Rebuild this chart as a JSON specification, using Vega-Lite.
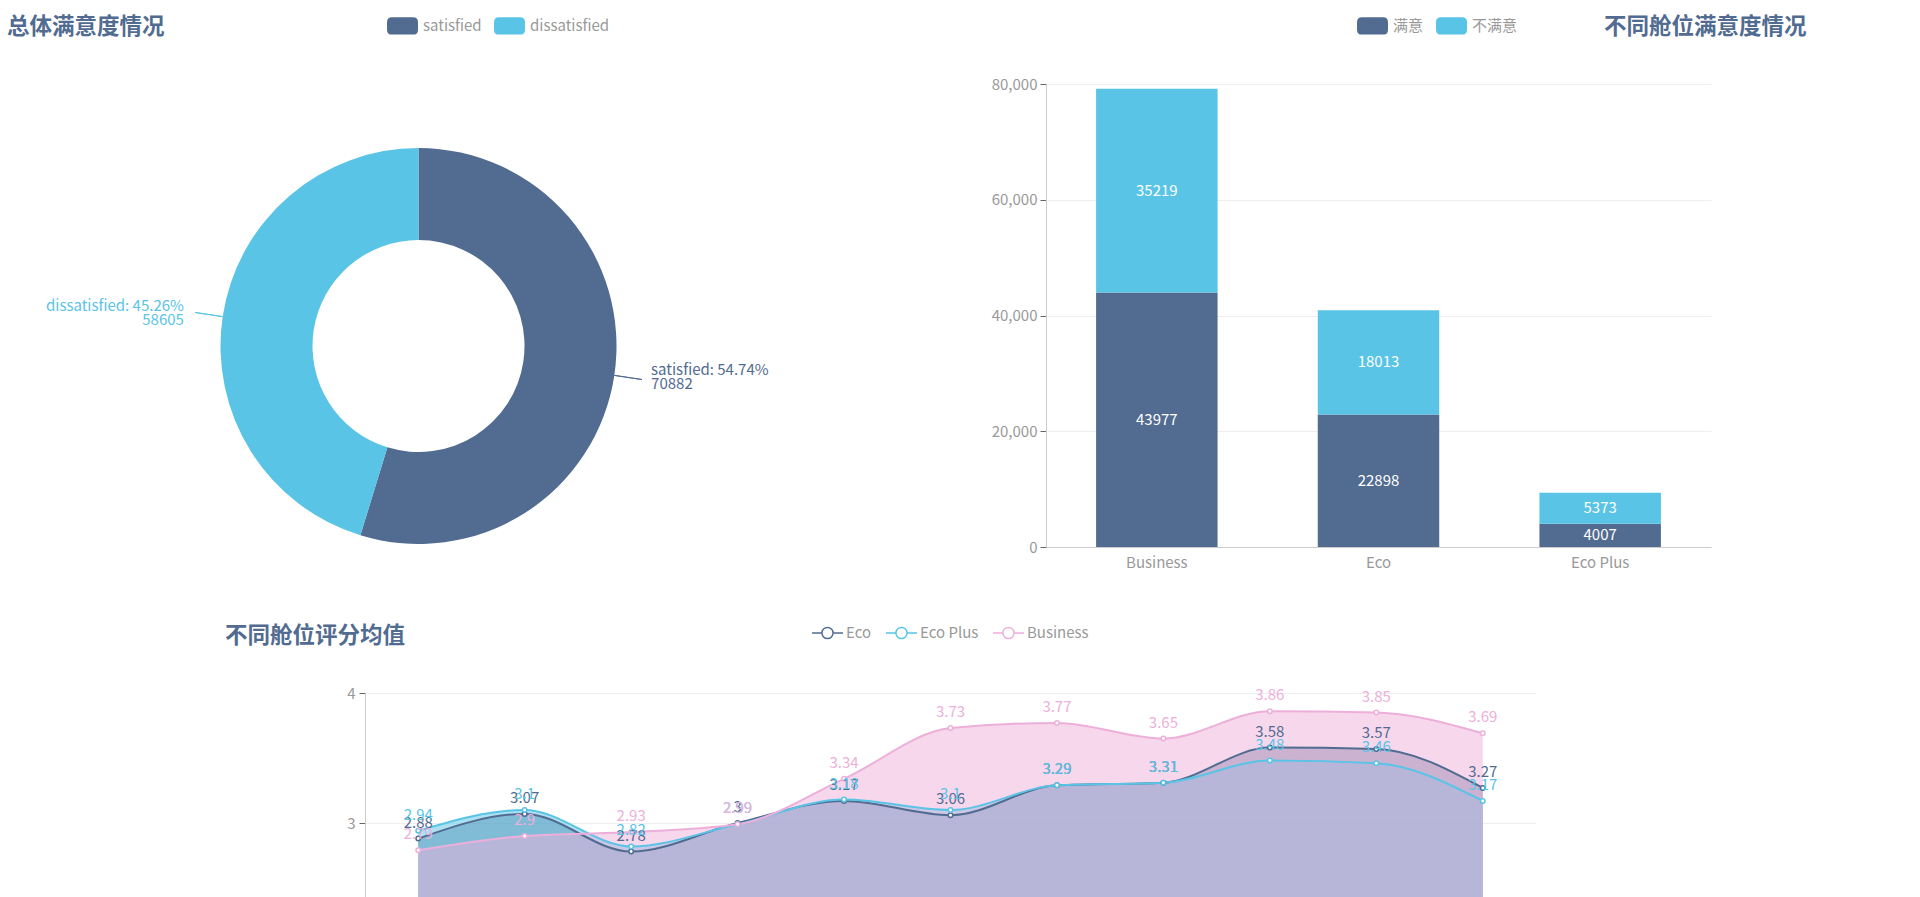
{
  "$schema": "https://vega.github.io/schema/vega-lite/v6.json",
  "padding": {"left": 0, "top": 10, "right": 5, "bottom": 5},
  "background": "white",
  "config": {
    "font": "Noto Sans CJK SC",
    "view": {"stroke": null},
    "title": {"fontSize": 22.5, "fontWeight": "bold", "color": "#516b91", "anchor": "start", "frame": "group", "baseline": "middle"},
    "legend": {"labelFontSize": 15, "labelColor": "#999999", "padding": 0, "labelOffset": 5, "columnPadding": 12},
    "axis": {"labelFontSize": 15, "labelColor": "#999999", "domainColor": "#cccccc", "tickColor": "#666666", "gridColor": "#eeeeee", "title": null}
  },
  "bounds": "full",
  "spacing": 8,
  "resolve": {
    "scale": {"color": "independent", "fill": "independent", "stroke": "independent"},
    "legend": {"color": "independent", "fill": "independent", "stroke": "independent"}
  },
  "vconcat": [
    {
      "bounds": "flush",
      "spacing": 209,
      "resolve": {
        "scale": {"color": "independent", "fill": "independent", "stroke": "independent"},
        "legend": {"color": "independent", "fill": "independent", "stroke": "independent"}
      },
      "hconcat": [
        {
          "width": 837,
          "height": 524,
          "title": {"text": "总体满意度情况", "dx": 7, "offset": -28.6},
          "data": {"values": [
            {"status": "satisfied", "value": 70882, "label": "satisfied: 54.74%\n70882"},
            {"status": "dissatisfied", "value": 58605, "label": "dissatisfied: 45.26%\n58605"}
          ]},
          "layer": [
            {
              "mark": {"type": "arc", "innerRadius": 106, "outerRadius": 198},
              "encoding": {
                "theta": {"field": "value", "type": "quantitative", "stack": true},
                "order": {"field": "value", "type": "quantitative", "sort": "descending"},
                "color": {"field": "status", "type": "nominal",
                  "scale": {"domain": ["satisfied", "dissatisfied"], "range": ["#516b91", "#59c4e6"]},
                  "legend": {"title": null, "orient": "none", "direction": "horizontal", "legendX": 387, "legendY": -74,
                    "symbolType": "M-0.68,-0.56L0.68,-0.56Q1,-0.56 1,-0.24L1,0.24Q1,0.56 0.68,0.56L-0.68,0.56Q-1,0.56 -1,0.24L-1,-0.24Q-1,-0.56 -0.68,-0.56Z",
                    "symbolSize": 961, "symbolStrokeWidth": 0}}
              }
            },
            {
              "transform": [
                {"stack": "value", "groupby": [], "as": ["v0", "v1"], "sort": [{"field": "value", "order": "descending"}]},
                {"fold": ["v0", "v1"], "as": ["edge", "pos"]},
                {"aggregate": [{"op": "mean", "field": "pos", "as": "mid"}], "groupby": ["status"]}
              ],
              "mark": {"type": "arc", "innerRadius": 198, "outerRadius": 226, "filled": false, "strokeWidth": 1},
              "encoding": {
                "theta": {"field": "mid", "type": "quantitative", "stack": null},
                "theta2": {"field": "mid"},
                "color": {"field": "status", "type": "nominal", "legend": null}
              }
            },
            {
              "mark": {"type": "text", "radius": 217, "fontSize": 15, "lineBreak": "\n", "lineHeight": 14, "baseline": "middle", "dy": -8,
                "dx": {"expr": "datum.status == 'satisfied' ? 18 : -20"},
                "align": {"expr": "datum.status == 'satisfied' ? 'left' : 'right'"}},
              "encoding": {
                "theta": {"field": "value", "type": "quantitative", "stack": true},
                "order": {"field": "value", "type": "quantitative", "sort": "descending"},
                "text": {"field": "label", "type": "nominal"},
                "color": {"field": "status", "type": "nominal", "legend": null}
              }
            }
          ]
        },
        {
          "width": 665,
          "height": 463,
          "title": {"text": "不同舱位满意度情况", "dx": 558, "offset": -28.6},
          "data": {"values": [
            {"cabin": "Business", "status": "满意", "count": 43977},
            {"cabin": "Business", "status": "不满意", "count": 35219},
            {"cabin": "Eco", "status": "满意", "count": 22898},
            {"cabin": "Eco", "status": "不满意", "count": 18013},
            {"cabin": "Eco Plus", "status": "满意", "count": 4007},
            {"cabin": "Eco Plus", "status": "不满意", "count": 5373}
          ]},
          "encoding": {
            "x": {"field": "cabin", "type": "nominal", "sort": null,
              "scale": {"paddingInner": 0.452, "paddingOuter": 0.226},
              "axis": {"labelAngle": 0, "ticks": false, "labelPadding": 8, "grid": false}},
            "order": {"field": "status", "type": "nominal", "sort": "descending"}
          },
          "layer": [
            {
              "mark": {"type": "bar"},
              "encoding": {
                "y": {"field": "count", "type": "quantitative", "stack": "zero",
                  "scale": {"domain": [0, 80000], "nice": false},
                  "axis": {"values": [0, 20000, 40000, 60000, 80000], "format": ",d", "tickSize": 6, "labelPadding": 3, "grid": true}},
                "color": {"field": "status", "type": "nominal",
                  "scale": {"domain": ["满意", "不满意"], "range": ["#516b91", "#59c4e6"]},
                  "legend": {"title": null, "orient": "none", "direction": "horizontal", "legendX": 311, "legendY": -74,
                    "symbolType": "M-0.68,-0.56L0.68,-0.56Q1,-0.56 1,-0.24L1,0.24Q1,0.56 0.68,0.56L-0.68,0.56Q-1,0.56 -1,0.24L-1,-0.24Q-1,-0.56 -0.68,-0.56Z",
                    "symbolSize": 961, "symbolStrokeWidth": 0}}
              }
            },
            {
              "mark": {"type": "text", "fill": "white", "fontSize": 15, "baseline": "middle"},
              "encoding": {
                "y": {"field": "count", "type": "quantitative", "stack": "zero", "bandPosition": 0.5},
                "detail": {"field": "status", "type": "nominal"},
                "text": {"field": "count", "type": "quantitative", "format": "d"}
              }
            }
          ]
        }
      ]
    },
    {
      "bounds": "flush",
      "spacing": 364,
      "resolve": {
        "scale": {"color": "independent", "fill": "independent", "stroke": "independent"},
        "legend": {"color": "independent", "fill": "independent", "stroke": "independent"}
      },
      "hconcat": [
        {
          "width": 1,
          "height": 1,
          "data": {"values": []},
          "mark": {"type": "point", "opacity": 0}
        },
        {
          "width": 1171,
          "height": 520,
          "title": {"text": "不同舱位评分均值", "dx": -140, "offset": -31.5},
          "data": {"values": [
            {"item": "Seat comfort", "cabin": "Eco", "score": 2.88},
            {"item": "Departure/Arrival time", "cabin": "Eco", "score": 3.07},
            {"item": "Food and drink", "cabin": "Eco", "score": 2.78},
            {"item": "Gate location", "cabin": "Eco", "score": 3.0},
            {"item": "Inflight wifi service", "cabin": "Eco", "score": 3.17},
            {"item": "Inflight entertainment", "cabin": "Eco", "score": 3.06},
            {"item": "Online support", "cabin": "Eco", "score": 3.29},
            {"item": "Ease of Online booking", "cabin": "Eco", "score": 3.31},
            {"item": "On-board service", "cabin": "Eco", "score": 3.58},
            {"item": "Leg room service", "cabin": "Eco", "score": 3.57},
            {"item": "Checkin service", "cabin": "Eco", "score": 3.27},
            {"item": "Seat comfort", "cabin": "Eco Plus", "score": 2.94},
            {"item": "Departure/Arrival time", "cabin": "Eco Plus", "score": 3.1},
            {"item": "Food and drink", "cabin": "Eco Plus", "score": 2.82},
            {"item": "Gate location", "cabin": "Eco Plus", "score": 2.99},
            {"item": "Inflight wifi service", "cabin": "Eco Plus", "score": 3.18},
            {"item": "Inflight entertainment", "cabin": "Eco Plus", "score": 3.1},
            {"item": "Online support", "cabin": "Eco Plus", "score": 3.29},
            {"item": "Ease of Online booking", "cabin": "Eco Plus", "score": 3.31},
            {"item": "On-board service", "cabin": "Eco Plus", "score": 3.48},
            {"item": "Leg room service", "cabin": "Eco Plus", "score": 3.46},
            {"item": "Checkin service", "cabin": "Eco Plus", "score": 3.17},
            {"item": "Seat comfort", "cabin": "Business", "score": 2.79},
            {"item": "Departure/Arrival time", "cabin": "Business", "score": 2.9},
            {"item": "Food and drink", "cabin": "Business", "score": 2.93},
            {"item": "Gate location", "cabin": "Business", "score": 2.99},
            {"item": "Inflight wifi service", "cabin": "Business", "score": 3.34},
            {"item": "Inflight entertainment", "cabin": "Business", "score": 3.73},
            {"item": "Online support", "cabin": "Business", "score": 3.77},
            {"item": "Ease of Online booking", "cabin": "Business", "score": 3.65},
            {"item": "On-board service", "cabin": "Business", "score": 3.86},
            {"item": "Leg room service", "cabin": "Business", "score": 3.85},
            {"item": "Checkin service", "cabin": "Business", "score": 3.69}
          ]},
          "encoding": {
            "x": {"field": "item", "type": "nominal", "sort": null,
              "scale": {"type": "point", "padding": 0.5},
              "axis": {"labelAngle": 0, "ticks": false, "labelLimit": 100, "labelPadding": 8}},
            "y": {"field": "score", "type": "quantitative", "stack": null,
              "scale": {"domain": [0, 4], "nice": false},
              "axis": {"values": [0, 1, 2, 3, 4], "tickSize": 6, "labelPadding": 4, "grid": true}}
          },
          "layer": [
            {
              "mark": {"type": "area", "interpolate": "monotone", "fillOpacity": 0.5},
              "encoding": {
                "fill": {"field": "cabin", "type": "nominal",
                  "scale": {"domain": ["Business", "Eco", "Eco Plus"], "range": ["#edafda", "#516b91", "#59c4e6"]},
                  "legend": null}
              }
            },
            {
              "mark": {"type": "line", "interpolate": "monotone", "strokeWidth": 2},
              "encoding": {
                "stroke": {"field": "cabin", "type": "nominal",
                  "scale": {"domain": ["Eco", "Eco Plus", "Business"], "range": ["#516b91", "#59c4e6", "#edafda"]},
                  "legend": {"title": null, "orient": "none", "direction": "horizontal", "legendX": 446, "legendY": -77,
                    "symbolType": "M-1,0H-0.36M0.36,0A0.36,0.36 0 1 1 -0.36,0A0.36,0.36 0 1 1 0.36,0M0.36,0H1",
                    "symbolSize": 961, "symbolStrokeWidth": 1.5, "symbolFillColor": "#ffffff", "labelOffset": 2, "columnPadding": 11}}
              }
            },
            {
              "mark": {"type": "point", "filled": true, "fill": "#ffffff", "size": 20, "strokeWidth": 1.5, "opacity": 1},
              "encoding": {
                "stroke": {"field": "cabin", "type": "nominal",
                  "scale": {"domain": ["Eco", "Eco Plus", "Business"], "range": ["#516b91", "#59c4e6", "#edafda"]},
                  "legend": {"title": null, "orient": "none", "direction": "horizontal", "legendX": 446, "legendY": -77,
                    "symbolType": "M-1,0H-0.36M0.36,0A0.36,0.36 0 1 1 -0.36,0A0.36,0.36 0 1 1 0.36,0M0.36,0H1",
                    "symbolSize": 961, "symbolStrokeWidth": 1.5, "symbolFillColor": "#ffffff", "labelOffset": 2, "columnPadding": 11}}
              }
            },
            {
              "mark": {"type": "text", "fontSize": 15, "baseline": "middle", "dy": -16},
              "encoding": {
                "text": {"field": "score", "type": "quantitative"},
                "fill": {"field": "cabin", "type": "nominal",
                  "scale": {"domain": ["Business", "Eco", "Eco Plus"], "range": ["#edafda", "#516b91", "#59c4e6"]},
                  "legend": null}
              }
            }
          ]
        }
      ]
    }
  ]
}
